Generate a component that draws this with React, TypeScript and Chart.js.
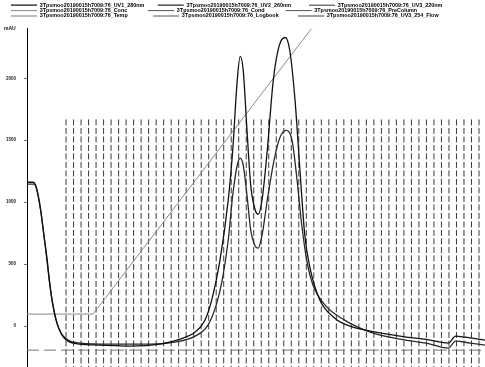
import { useEffect, useRef } from 'react';
import { Chart, registerables } from 'chart.js';

Chart.register(...registerables);

const runPrefix = '3Tpsmoo20190015h7009:76_';
const legendLabels = [
  runPrefix + 'UV1_280nm         ',
  runPrefix + 'UV2_260nm            ',
  runPrefix + 'UV3_220nm',
  runPrefix + 'Conc              ',
  runPrefix + 'Cond              ',
  runPrefix + 'PreColumn',
  runPrefix + 'Temp                 ',
  runPrefix + 'Logbook             ',
  runPrefix + 'UV3_254_Flow',
];

const yTicks = [0, 500, 1000, 1500, 2000];
const yUnit = 'mAU';

// UV1 (tall trace)
const uv1X = [0, 0.8, 1.2, 1.46, 1.86, 2.26, 2.66, 3.06, 3.46, 4.0, 4.66, 5.46, 7.06, 9.72, 13.7, 17.7, 20.4, 22.4, 23.7, 24.6, 25.7, 26.8, 27.4, 28.0, 28.4, 28.8, 29.3, 29.8, 30.4, 30.8, 31.3, 32.0, 32.8, 33.6, 34.4, 35.0, 35.7, 36.4, 37.0, 37.7, 39.0, 41.0, 43.0, 45.7, 49.7, 53.7, 56.1, 57.1, 58.3, 61.0];
const uv1Y = [1161, 1161, 1128, 1056, 919, 733, 548, 330, 169, 24, -73, -121, -145, -153, -161, -145, -105, -48, 48, 210, 532, 1016, 1419, 1983, 2176, 2063, 1580, 1136, 935, 903, 1016, 1419, 1983, 2265, 2329, 2224, 1822, 1217, 733, 467, 210, 64, 0, -40, -81, -113, -137, -81, -89, -113];

// UV2 (lower trace)
const uv2X = [0, 0.93, 1.33, 1.73, 2.13, 2.53, 2.93, 3.33, 3.86, 4.53, 5.46, 7.06, 11.0, 16.4, 19.7, 22.4, 24.1, 25.2, 26.0, 26.8, 27.4, 28.0, 28.4, 28.8, 29.3, 29.8, 30.4, 30.8, 31.3, 32.1, 32.9, 33.7, 34.5, 35.3, 35.9, 36.6, 37.3, 38.1, 39.7, 42.3, 45.7, 49.7, 53.7, 56.1, 57.1, 59.0, 61.0];
const uv2Y = [1145, 1145, 1096, 975, 790, 596, 387, 210, 48, -56, -113, -137, -145, -145, -129, -81, 8, 169, 371, 693, 1056, 1298, 1355, 1298, 1056, 774, 645, 629, 733, 1056, 1338, 1523, 1580, 1499, 1217, 814, 516, 330, 169, 48, -48, -105, -145, -177, -121, -137, -153];

// Gradient (Conc)
const concX = [0, 8.8, 37.7, 45];
const concY = [97, 97, 2386, 2950];

// Temp baseline
const tempX = [0, 61];
const tempY = [-194, -194];

// Fraction marks
const fractionX = [5.2, 6.2, 7.2, 8.2, 9.2, 10.2, 11.2, 12.2, 13.2, 14.2, 15.2, 16.2, 17.2, 18.2, 19.2, 20.2, 21.2, 22.2, 23.2, 24.2, 25.2, 26.2, 27.2, 28.2, 29.2, 30.2, 31.2, 32.2, 33.2, 34.2, 35.2, 36.2, 37.2, 38.2, 39.2, 40.2, 41.2, 42.2, 43.2, 44.2, 45.2, 46.2, 47.2, 48.2, 49.2, 50.2, 51.2, 52.2, 53.2, 54.2, 55.2, 56.2, 57.2, 58.2, 59.2, 60.2];
const fractionTop = 1668;
const fractionBottom = -400;

const pts = (xs: number[], ys: number[]) => xs.map((x, i) => ({ x, y: ys[i] }));

export default function App() {
  const ref = useRef<HTMLCanvasElement | null>(null);

  useEffect(() => {
    document.body.style.margin = '0';
    const canvas = ref.current;
    if (!canvas) return;

    const fracData: any[] = [];
    fractionX.forEach((x) => {
      fracData.push({ x, y: fractionTop }, { x, y: fractionBottom }, { x, y: null });
    });

    const unitPlugin = {
      id: 'unitLabel',
      afterLayout(chart: any) {
        if (chart.legend) {
          chart.legend.left += 11;
        }
      },
      afterDraw(chart: any) {
        const c = chart.ctx;
        c.save();
        c.font = 'bold 5px "Liberation Sans"';
        c.fillStyle = '#111';
        c.textBaseline = 'middle';
        c.fillText(yUnit, 4, 29);
        c.restore();
      },
    };

    const base = { pointRadius: 0, fill: false, spanGaps: false };

    const chart = new Chart(canvas, {
      type: 'line',
      data: {
        datasets: [
          { ...base, label: legendLabels[0], data: pts(uv1X, uv1Y), borderColor: '#111', borderWidth: 1.3, cubicInterpolationMode: 'monotone' },
          { ...base, label: legendLabels[1], data: pts(uv2X, uv2Y), borderColor: '#2a2a2a', borderWidth: 1.3, cubicInterpolationMode: 'monotone' },
          { ...base, label: legendLabels[2], data: [], borderColor: '#333', borderWidth: 1 },
          { ...base, label: legendLabels[3], data: pts(concX, concY), borderColor: '#8a8a8a', borderWidth: 1 },
          { ...base, label: legendLabels[4], data: [], borderColor: '#555', borderWidth: 1, borderDash: [6, 4] },
          { ...base, label: legendLabels[5], data: [], borderColor: '#555', borderWidth: 1, borderDash: [8, 4] },
          { ...base, label: legendLabels[6], data: pts(tempX, tempY), borderColor: '#777', borderWidth: 1, borderDash: [12, 5] },
          { ...base, label: legendLabels[7], data: [], borderColor: '#555', borderWidth: 1, borderDash: [8, 5] },
          { ...base, label: legendLabels[8], data: fracData, borderColor: '#3a3a3a', borderWidth: 1, borderDash: [6, 2.5] },
        ] as any,
      },
      options: {
        animation: false,
        responsive: false,
        devicePixelRatio: 1,
        layout: { padding: { top: 2.5, left: 0, right: 0, bottom: 0 } },
        plugins: {
          legend: {
            position: 'top',
            align: 'start',
            labels: {
              usePointStyle: true,
              pointStyle: 'line',
              pointStyleWidth: 26,
              padding: 0,
              color: '#000',
              font: { size: 5.4, weight: 'bold', family: '"Liberation Sans"' },
            },
          },
          tooltip: { enabled: false },
        },
        scales: {
          x: { type: 'linear', display: false, min: 0, max: 61 },
          y: {
            type: 'linear',
            min: -330,
            max: 2400,
            afterBuildTicks: (scale: any) => {
              scale.ticks = yTicks.map((v) => ({ value: v }));
            },
            afterFit: (scale: any) => {
              scale.width = 27;
              scale.paddingTop = 0;
              scale.paddingBottom = 0;
            },
            ticks: {
              padding: 8,
              color: '#222',
              font: { size: 4.5, weight: 'bold', family: '"Liberation Sans"' },
              callback: (v: any) => String(v),
            },
            grid: { drawOnChartArea: false, drawTicks: true, tickLength: 3, color: '#777' },
            border: { display: true, color: '#000', width: 1 },
          },
        },
      } as any,
      plugins: [unitPlugin],
    });

    return () => chart.destroy();
  }, []);

  return (
    <div style={{ width: 485, height: 367, background: '#fff' }}>
      <canvas ref={ref} width={485} height={367} />
    </div>
  );
}
